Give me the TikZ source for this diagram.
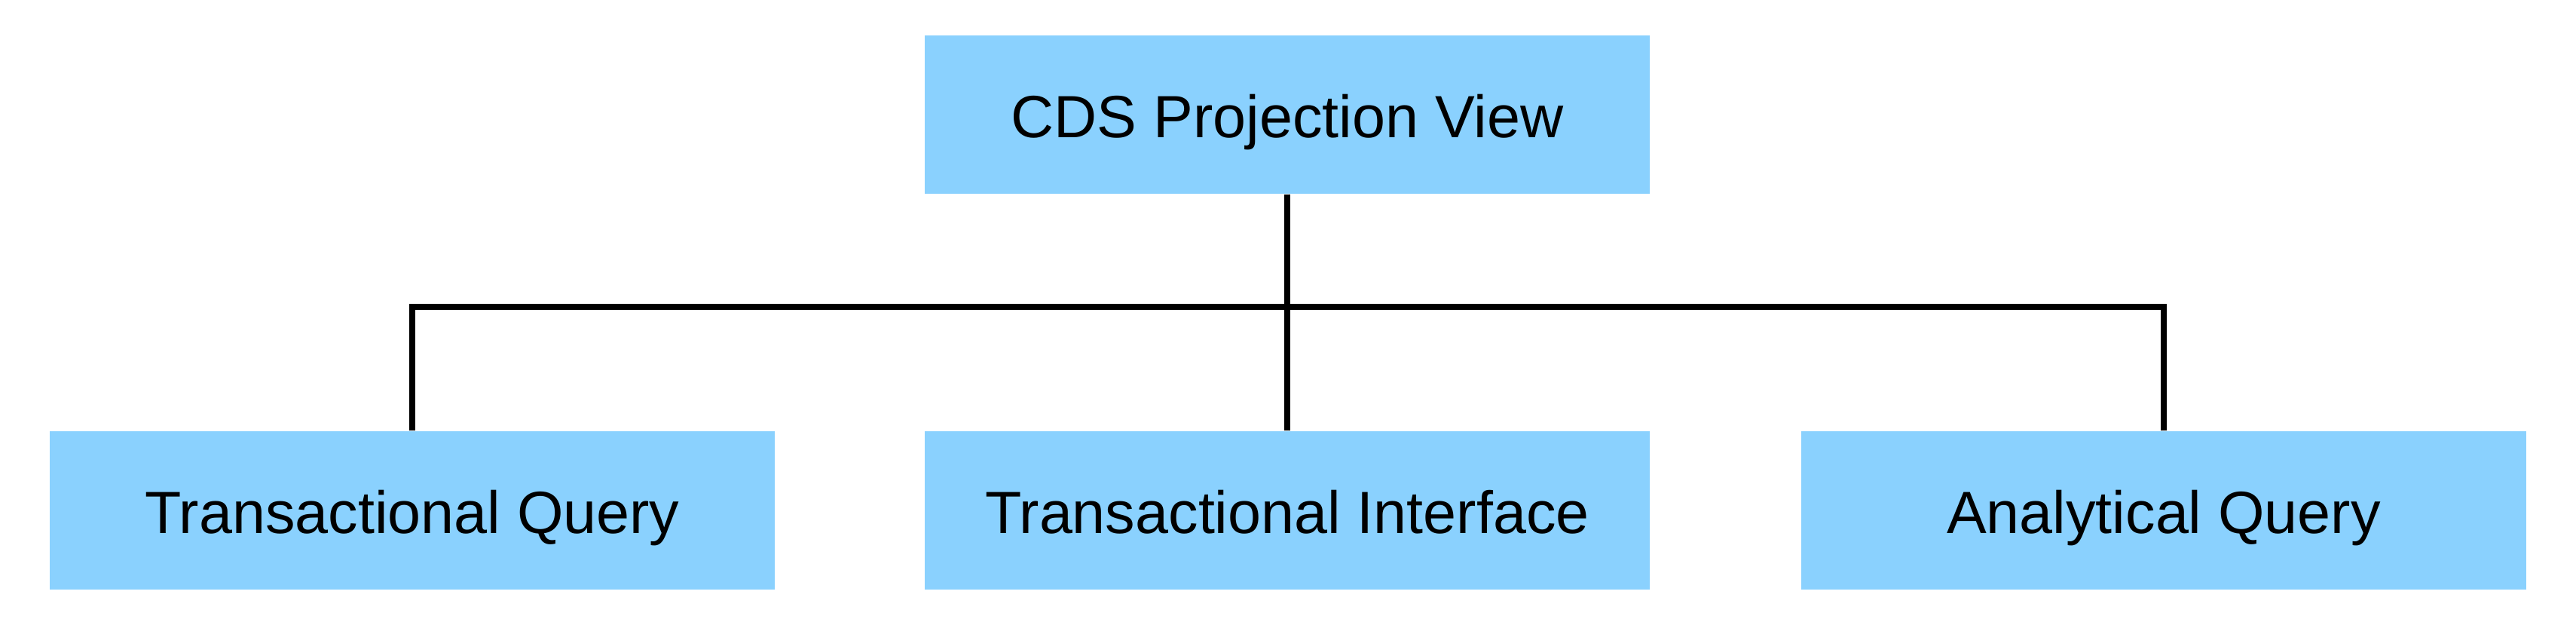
\documentclass[tikz,border=0pt]{standalone}
\usepackage{fontspec}
\setmainfont{Liberation Sans}
\usepackage{xcolor}
\definecolor{boxblue}{HTML}{8AD1FE}

\tikzset{
	viewbox/.style = {fill = boxblue, minimum width = 9.62cm, minimum height = 2.1cm,
		inner sep = 0pt, text height = 20pt, text depth = 2.6pt,
		font = \fontsize{22.5}{27}\selectfont},
	link/.style = {line width = 2.3pt, black}
}

\begin{document}
\begin{tikzpicture}
			%\draw[help lines] (0,0) grid (34,8);
			\useasboundingbox (0,0) rectangle (34.18,8.29);
			
			\node[viewbox] (proj) at (17.08,6.77) {CDS Projection View};
			
			\node[viewbox] (tquery) at (5.47,1.52) {Transactional Query};
			\node[viewbox] (tiface) at (17.08,1.52) {Transactional Interface};
			\node[viewbox] (aquery) at (28.71,1.52) {Analytical Query};
			
			\coordinate (bus) at (17.08,4.22);
			
			\draw[link] (proj.south) -- (tiface.north);
			\draw[link] (tquery.north) |- (bus) -| (aquery.north);
		\end{tikzpicture}
\end{document}
